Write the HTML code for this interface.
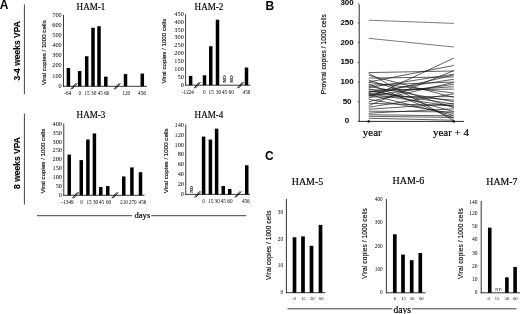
<!DOCTYPE html>
<html><head><meta charset="utf-8"><style>
html,body{margin:0;padding:0;background:#fff;}
svg{display:block;will-change:transform;}
.t{stroke:#000;stroke-width:0.18px;}
.s{stroke:#000;stroke-width:0.12px;}
</style></head><body>
<svg width="520" height="314" viewBox="0 0 520 314">
<rect width="520" height="314" fill="#fff"/>
<text x="-0.2" y="9.4" font-size="12" font-family='"Liberation Sans", sans-serif' text-anchor="start" font-weight="bold" fill="#000">A</text>
<line x1="24.4" y1="4.4" x2="24.4" y2="94.3" stroke="#444" stroke-width="1"/>
<line x1="24.4" y1="113.6" x2="24.4" y2="204.5" stroke="#444" stroke-width="1"/>
<text x="17" y="50.75" font-size="8.5" font-family='"Liberation Sans", sans-serif' text-anchor="middle" font-weight="bold" fill="#000" transform="rotate(-90 17 50.75)" dominant-baseline="central" class="s">3-4 weeks VPA</text>
<text x="17" y="163" font-size="8.5" font-family='"Liberation Sans", sans-serif' text-anchor="middle" font-weight="bold" fill="#000" transform="rotate(-90 17 163)" dominant-baseline="central" class="s">8 weeks VPA</text>
<line x1="37" y1="215.7" x2="132" y2="215.7" stroke="#444" stroke-width="1"/>
<line x1="151.3" y1="215.7" x2="246.3" y2="215.7" stroke="#444" stroke-width="1"/>
<text x="142.4" y="218.3" font-size="8.7" font-family='"Liberation Serif", serif' text-anchor="middle" fill="#000" class="t">days</text>
<text x="91" y="10.3" font-size="10.1" font-family='"Liberation Serif", serif' text-anchor="middle" fill="#000" transform="translate(91 10.3) scale(0.9 1) translate(-91 -10.3)" class="t">HAM-1</text>
<text x="43.9" y="52.7" font-size="6.2" font-family='"Liberation Sans", sans-serif' text-anchor="middle" fill="#000" transform="rotate(-90 43.9 52.7)" dominant-baseline="central" class="s">Viral copies / 1000 cells</text>
<line x1="63.5" y1="14.8" x2="63.5" y2="86.75" stroke="#222" stroke-width="0.9"/>
<line x1="63.05" y1="86.3" x2="147" y2="86.3" stroke="#222" stroke-width="0.9"/>
<text x="61.7" y="87.842" font-size="6.3" font-family='"Liberation Serif", serif' text-anchor="end" fill="#000">0</text>
<text x="61.7" y="77.65628571428572" font-size="6.3" font-family='"Liberation Serif", serif' text-anchor="end" fill="#000">100</text>
<text x="61.7" y="67.47057142857143" font-size="6.3" font-family='"Liberation Serif", serif' text-anchor="end" fill="#000">200</text>
<text x="61.7" y="57.28485714285714" font-size="6.3" font-family='"Liberation Serif", serif' text-anchor="end" fill="#000">300</text>
<text x="61.7" y="47.09914285714286" font-size="6.3" font-family='"Liberation Serif", serif' text-anchor="end" fill="#000">400</text>
<text x="61.7" y="36.91342857142857" font-size="6.3" font-family='"Liberation Serif", serif' text-anchor="end" fill="#000">500</text>
<text x="61.7" y="26.72771428571428" font-size="6.3" font-family='"Liberation Serif", serif' text-anchor="end" fill="#000">600</text>
<text x="61.7" y="16.542" font-size="6.3" font-family='"Liberation Serif", serif' text-anchor="end" fill="#000">700</text>
<rect x="66.65" y="67.96571428571428" width="3.5" height="18.334285714285713" fill="#000"/>
<rect x="77.9" y="71.02142857142857" width="3.5" height="15.278571428571428" fill="#000"/>
<rect x="84.95" y="56.25214285714286" width="3.5" height="30.047857142857143" fill="#000"/>
<rect x="91.25" y="27.732142857142854" width="3.5" height="58.56785714285714" fill="#000"/>
<rect x="97.25" y="26.20428571428571" width="3.5" height="60.09571428571429" fill="#000"/>
<rect x="104.05" y="76.62357142857142" width="3.5" height="9.676428571428572" fill="#000"/>
<rect x="123.75" y="74.07714285714286" width="3.5" height="12.222857142857142" fill="#000"/>
<rect x="140.55" y="73.56785714285714" width="3.5" height="12.732142857142858" fill="#000"/>
<text x="67.8" y="94.7" font-size="5.2" font-family='"Liberation Serif", serif' text-anchor="middle" fill="#000">-64</text>
<text x="79.9" y="94.7" font-size="5.2" font-family='"Liberation Serif", serif' text-anchor="middle" fill="#000">0</text>
<text x="87" y="94.7" font-size="5.2" font-family='"Liberation Serif", serif' text-anchor="middle" fill="#000">15</text>
<text x="93.7" y="94.7" font-size="5.2" font-family='"Liberation Serif", serif' text-anchor="middle" fill="#000">30</text>
<text x="100.2" y="94.7" font-size="5.2" font-family='"Liberation Serif", serif' text-anchor="middle" fill="#000">45</text>
<text x="106.8" y="94.7" font-size="5.2" font-family='"Liberation Serif", serif' text-anchor="middle" fill="#000">60</text>
<text x="126.2" y="94.7" font-size="5.2" font-family='"Liberation Serif", serif' text-anchor="middle" fill="#000">120</text>
<text x="142" y="94.7" font-size="5.2" font-family='"Liberation Serif", serif' text-anchor="middle" fill="#000">456</text>
<line x1="70.60000000000001" y1="89.3" x2="75.8" y2="83.3" stroke="#000" stroke-width="0.85"/>
<line x1="72.00000000000001" y1="89.3" x2="77.2" y2="83.3" stroke="#000" stroke-width="0.85"/>
<line x1="113.9" y1="89.3" x2="119.1" y2="83.3" stroke="#000" stroke-width="0.85"/>
<line x1="115.30000000000001" y1="89.3" x2="120.5" y2="83.3" stroke="#000" stroke-width="0.85"/>
<text x="209" y="10.3" font-size="10.1" font-family='"Liberation Serif", serif' text-anchor="middle" fill="#000" transform="translate(209 10.3) scale(0.9 1) translate(-209 -10.3)" class="t">HAM-2</text>
<text x="163.8" y="51.1" font-size="6.2" font-family='"Liberation Sans", sans-serif' text-anchor="middle" fill="#000" transform="rotate(-90 163.8 51.1)" dominant-baseline="central" class="s">Viral copies / 1000 cells</text>
<line x1="185.6" y1="14.2" x2="185.6" y2="85.65" stroke="#222" stroke-width="0.9"/>
<line x1="185.15" y1="85.2" x2="250.5" y2="85.2" stroke="#222" stroke-width="0.9"/>
<text x="183.79999999999998" y="86.742" font-size="6.3" font-family='"Liberation Serif", serif' text-anchor="end" fill="#000">0</text>
<text x="183.79999999999998" y="78.85311111111112" font-size="6.3" font-family='"Liberation Serif", serif' text-anchor="end" fill="#000">50</text>
<text x="183.79999999999998" y="70.96422222222223" font-size="6.3" font-family='"Liberation Serif", serif' text-anchor="end" fill="#000">100</text>
<text x="183.79999999999998" y="63.07533333333334" font-size="6.3" font-family='"Liberation Serif", serif' text-anchor="end" fill="#000">150</text>
<text x="183.79999999999998" y="55.18644444444445" font-size="6.3" font-family='"Liberation Serif", serif' text-anchor="end" fill="#000">200</text>
<text x="183.79999999999998" y="47.29755555555556" font-size="6.3" font-family='"Liberation Serif", serif' text-anchor="end" fill="#000">250</text>
<text x="183.79999999999998" y="39.408666666666676" font-size="6.3" font-family='"Liberation Serif", serif' text-anchor="end" fill="#000">300</text>
<text x="183.79999999999998" y="31.51977777777778" font-size="6.3" font-family='"Liberation Serif", serif' text-anchor="end" fill="#000">350</text>
<text x="183.79999999999998" y="23.630888888888894" font-size="6.3" font-family='"Liberation Serif", serif' text-anchor="end" fill="#000">400</text>
<text x="183.79999999999998" y="15.742000000000003" font-size="6.3" font-family='"Liberation Serif", serif' text-anchor="end" fill="#000">450</text>
<rect x="188.85" y="75.89111111111112" width="3.5" height="9.308888888888887" fill="#000"/>
<rect x="202.75" y="75.26" width="3.5" height="9.94" fill="#000"/>
<rect x="209.0" y="46.228888888888896" width="3.5" height="38.97111111111111" fill="#000"/>
<rect x="215.75" y="19.72222222222223" width="3.5" height="65.47777777777777" fill="#000"/>
<rect x="244.75" y="67.5288888888889" width="3.5" height="17.67111111111111" fill="#000"/>
<text x="187.9" y="94.0" font-size="5.2" font-family='"Liberation Serif", serif' text-anchor="middle" fill="#000">-1224</text>
<text x="204.3" y="94.0" font-size="5.2" font-family='"Liberation Serif", serif' text-anchor="middle" fill="#000">0</text>
<text x="211.2" y="94.0" font-size="5.2" font-family='"Liberation Serif", serif' text-anchor="middle" fill="#000">15</text>
<text x="218.5" y="94.0" font-size="5.2" font-family='"Liberation Serif", serif' text-anchor="middle" fill="#000">30</text>
<text x="224.5" y="94.0" font-size="5.2" font-family='"Liberation Serif", serif' text-anchor="middle" fill="#000">45</text>
<text x="231.2" y="94.0" font-size="5.2" font-family='"Liberation Serif", serif' text-anchor="middle" fill="#000">60</text>
<text x="246.5" y="94.0" font-size="5.2" font-family='"Liberation Serif", serif' text-anchor="middle" fill="#000">456</text>
<line x1="194.00000000000003" y1="88.2" x2="199.20000000000002" y2="82.2" stroke="#000" stroke-width="0.85"/>
<line x1="195.4" y1="88.2" x2="200.6" y2="82.2" stroke="#000" stroke-width="0.85"/>
<line x1="237.20000000000002" y1="88.2" x2="242.4" y2="82.2" stroke="#000" stroke-width="0.85"/>
<line x1="238.6" y1="88.2" x2="243.79999999999998" y2="82.2" stroke="#000" stroke-width="0.85"/>
<text x="224.5" y="79" font-size="5" font-family='"Liberation Serif", serif' text-anchor="middle" fill="#000" transform="rotate(-90 224.5 79)" dominant-baseline="central" class="s">ND</text>
<text x="231" y="79" font-size="5" font-family='"Liberation Serif", serif' text-anchor="middle" fill="#000" transform="rotate(-90 231 79)" dominant-baseline="central" class="s">ND</text>
<text x="91" y="118.3" font-size="10.1" font-family='"Liberation Serif", serif' text-anchor="middle" fill="#000" transform="translate(91 118.3) scale(0.9 1) translate(-91 -118.3)" class="t">HAM-3</text>
<text x="42.7" y="161.0" font-size="6.2" font-family='"Liberation Sans", sans-serif' text-anchor="middle" fill="#000" transform="rotate(-90 42.7 161.0)" dominant-baseline="central" class="s">Viral copies / 1000 cells</text>
<line x1="63.75" y1="123.5" x2="63.75" y2="195.75" stroke="#222" stroke-width="0.9"/>
<line x1="63.3" y1="195.3" x2="144.5" y2="195.3" stroke="#222" stroke-width="0.9"/>
<text x="61.95" y="196.842" font-size="6.3" font-family='"Liberation Serif", serif' text-anchor="end" fill="#000">0</text>
<text x="61.95" y="187.95450000000002" font-size="6.3" font-family='"Liberation Serif", serif' text-anchor="end" fill="#000">50</text>
<text x="61.95" y="179.067" font-size="6.3" font-family='"Liberation Serif", serif' text-anchor="end" fill="#000">100</text>
<text x="61.95" y="170.17950000000002" font-size="6.3" font-family='"Liberation Serif", serif' text-anchor="end" fill="#000">150</text>
<text x="61.95" y="161.292" font-size="6.3" font-family='"Liberation Serif", serif' text-anchor="end" fill="#000">200</text>
<text x="61.95" y="152.4045" font-size="6.3" font-family='"Liberation Serif", serif' text-anchor="end" fill="#000">250</text>
<text x="61.95" y="143.51700000000002" font-size="6.3" font-family='"Liberation Serif", serif' text-anchor="end" fill="#000">300</text>
<text x="61.95" y="134.6295" font-size="6.3" font-family='"Liberation Serif", serif' text-anchor="end" fill="#000">350</text>
<text x="61.95" y="125.742" font-size="6.3" font-family='"Liberation Serif", serif' text-anchor="end" fill="#000">400</text>
<rect x="67.5" y="154.59525000000002" width="3.5" height="40.704750000000004" fill="#000"/>
<rect x="79.5" y="160.1055" width="3.5" height="35.194500000000005" fill="#000"/>
<rect x="86.15" y="139.4865" width="3.5" height="55.813500000000005" fill="#000"/>
<rect x="92.65" y="133.443" width="3.5" height="61.857000000000006" fill="#000"/>
<rect x="99.0" y="186.94575" width="3.5" height="8.35425" fill="#000"/>
<rect x="106.0" y="186.05700000000002" width="3.5" height="9.243" fill="#000"/>
<rect x="122.0" y="176.45850000000002" width="3.5" height="18.841500000000003" fill="#000"/>
<rect x="130.15" y="167.39325000000002" width="3.5" height="27.906750000000002" fill="#000"/>
<rect x="138.75" y="172.1925" width="3.5" height="23.1075" fill="#000"/>
<text x="67.6" y="203.6" font-size="5.2" font-family='"Liberation Serif", serif' text-anchor="middle" fill="#000">-1349</text>
<text x="81.6" y="203.6" font-size="5.2" font-family='"Liberation Serif", serif' text-anchor="middle" fill="#000">0</text>
<text x="89" y="203.6" font-size="5.2" font-family='"Liberation Serif", serif' text-anchor="middle" fill="#000">15</text>
<text x="95.5" y="203.6" font-size="5.2" font-family='"Liberation Serif", serif' text-anchor="middle" fill="#000">30</text>
<text x="101.5" y="203.6" font-size="5.2" font-family='"Liberation Serif", serif' text-anchor="middle" fill="#000">45</text>
<text x="108.5" y="203.6" font-size="5.2" font-family='"Liberation Serif", serif' text-anchor="middle" fill="#000">60</text>
<text x="124" y="203.6" font-size="5.2" font-family='"Liberation Serif", serif' text-anchor="middle" fill="#000">210</text>
<text x="132.8" y="203.6" font-size="5.2" font-family='"Liberation Serif", serif' text-anchor="middle" fill="#000">270</text>
<text x="142.5" y="203.6" font-size="5.2" font-family='"Liberation Serif", serif' text-anchor="middle" fill="#000">456</text>
<line x1="72.2" y1="198.3" x2="77.39999999999999" y2="192.3" stroke="#000" stroke-width="0.85"/>
<line x1="73.60000000000001" y1="198.3" x2="78.8" y2="192.3" stroke="#000" stroke-width="0.85"/>
<line x1="111.7" y1="198.3" x2="116.89999999999999" y2="192.3" stroke="#000" stroke-width="0.85"/>
<line x1="113.10000000000001" y1="198.3" x2="118.3" y2="192.3" stroke="#000" stroke-width="0.85"/>
<text x="209" y="118.3" font-size="10.1" font-family='"Liberation Serif", serif' text-anchor="middle" fill="#000" transform="translate(209 118.3) scale(0.9 1) translate(-209 -118.3)" class="t">HAM-4</text>
<text x="165.3" y="160.75" font-size="6.2" font-family='"Liberation Sans", sans-serif' text-anchor="middle" fill="#000" transform="rotate(-90 165.3 160.75)" dominant-baseline="central" class="s">Viral copies / 1000 cells</text>
<line x1="185.75" y1="124.5" x2="185.75" y2="194.85" stroke="#222" stroke-width="0.9"/>
<line x1="185.3" y1="194.4" x2="250" y2="194.4" stroke="#222" stroke-width="0.9"/>
<text x="183.95" y="195.942" font-size="6.3" font-family='"Liberation Serif", serif' text-anchor="end" fill="#000">0</text>
<text x="183.95" y="186.05628571428574" font-size="6.3" font-family='"Liberation Serif", serif' text-anchor="end" fill="#000">20</text>
<text x="183.95" y="176.17057142857144" font-size="6.3" font-family='"Liberation Serif", serif' text-anchor="end" fill="#000">40</text>
<text x="183.95" y="166.28485714285713" font-size="6.3" font-family='"Liberation Serif", serif' text-anchor="end" fill="#000">60</text>
<text x="183.95" y="156.39914285714286" font-size="6.3" font-family='"Liberation Serif", serif' text-anchor="end" fill="#000">80</text>
<text x="183.95" y="146.5134285714286" font-size="6.3" font-family='"Liberation Serif", serif' text-anchor="end" fill="#000">100</text>
<text x="183.95" y="136.6277142857143" font-size="6.3" font-family='"Liberation Serif", serif' text-anchor="end" fill="#000">120</text>
<text x="183.95" y="126.742" font-size="6.3" font-family='"Liberation Serif", serif' text-anchor="end" fill="#000">140</text>
<rect x="201.85" y="136.56857142857143" width="3.5" height="57.831428571428575" fill="#000"/>
<rect x="208.65" y="139.53428571428572" width="3.5" height="54.86571428571429" fill="#000"/>
<rect x="214.85" y="128.66" width="3.5" height="65.74000000000001" fill="#000"/>
<rect x="221.5" y="185.99714285714288" width="3.5" height="8.402857142857144" fill="#000"/>
<rect x="228.0" y="188.96285714285716" width="3.5" height="5.437142857142858" fill="#000"/>
<rect x="245.0" y="165.23714285714286" width="3.5" height="29.162857142857145" fill="#000"/>
<text x="203.5" y="203" font-size="5.2" font-family='"Liberation Serif", serif' text-anchor="middle" fill="#000">0</text>
<text x="210.7" y="203" font-size="5.2" font-family='"Liberation Serif", serif' text-anchor="middle" fill="#000">15</text>
<text x="217.2" y="203" font-size="5.2" font-family='"Liberation Serif", serif' text-anchor="middle" fill="#000">30</text>
<text x="223.3" y="203" font-size="5.2" font-family='"Liberation Serif", serif' text-anchor="middle" fill="#000">45</text>
<text x="229.9" y="203" font-size="5.2" font-family='"Liberation Serif", serif' text-anchor="middle" fill="#000">60</text>
<text x="245.8" y="203" font-size="5.2" font-family='"Liberation Serif", serif' text-anchor="middle" fill="#000">456</text>
<line x1="194.4" y1="197.4" x2="199.6" y2="191.4" stroke="#000" stroke-width="0.85"/>
<line x1="195.79999999999998" y1="197.4" x2="200.99999999999997" y2="191.4" stroke="#000" stroke-width="0.85"/>
<line x1="234.70000000000002" y1="197.4" x2="239.9" y2="191.4" stroke="#000" stroke-width="0.85"/>
<line x1="236.1" y1="197.4" x2="241.29999999999998" y2="191.4" stroke="#000" stroke-width="0.85"/>
<text x="191" y="189.5" font-size="4.6" font-family='"Liberation Serif", serif' text-anchor="middle" fill="#000" transform="rotate(-90 191 189.5)" dominant-baseline="central" class="s">ND</text>
<text x="265.6" y="9.7" font-size="12" font-family='"Liberation Sans", sans-serif' text-anchor="start" font-weight="bold" fill="#000">B</text>
<line x1="359.2" y1="4.3" x2="359.2" y2="121.6" stroke="#111" stroke-width="0.9"/>
<line x1="358.8" y1="121.4" x2="464" y2="121.4" stroke="#111" stroke-width="0.9"/>
<text x="347.1" y="123.4" font-size="8" font-family='"Liberation Sans", sans-serif' text-anchor="middle" font-weight="bold" fill="#000">0</text>
<line x1="357.7" y1="121.4" x2="359.2" y2="121.4" stroke="#111" stroke-width="0.6"/>
<text x="347.1" y="103.71666666666667" font-size="8" font-family='"Liberation Sans", sans-serif' text-anchor="middle" font-weight="bold" fill="#000">50</text>
<line x1="357.7" y1="101.71666666666667" x2="359.2" y2="101.71666666666667" stroke="#111" stroke-width="0.6"/>
<text x="347.1" y="84.03333333333333" font-size="8" font-family='"Liberation Sans", sans-serif' text-anchor="middle" font-weight="bold" fill="#000">100</text>
<line x1="357.7" y1="82.03333333333333" x2="359.2" y2="82.03333333333333" stroke="#111" stroke-width="0.6"/>
<text x="347.1" y="64.35" font-size="8" font-family='"Liberation Sans", sans-serif' text-anchor="middle" font-weight="bold" fill="#000">150</text>
<line x1="357.7" y1="62.349999999999994" x2="359.2" y2="62.349999999999994" stroke="#111" stroke-width="0.6"/>
<text x="347.1" y="44.66666666666666" font-size="8" font-family='"Liberation Sans", sans-serif' text-anchor="middle" font-weight="bold" fill="#000">200</text>
<line x1="357.7" y1="42.66666666666666" x2="359.2" y2="42.66666666666666" stroke="#111" stroke-width="0.6"/>
<text x="347.1" y="24.98333333333332" font-size="8" font-family='"Liberation Sans", sans-serif' text-anchor="middle" font-weight="bold" fill="#000">250</text>
<line x1="357.7" y1="22.98333333333332" x2="359.2" y2="22.98333333333332" stroke="#111" stroke-width="0.6"/>
<text x="347.1" y="5.299999999999983" font-size="8" font-family='"Liberation Sans", sans-serif' text-anchor="middle" font-weight="bold" fill="#000">300</text>
<line x1="357.7" y1="3.299999999999983" x2="359.2" y2="3.299999999999983" stroke="#111" stroke-width="0.6"/>
<text x="323.8" y="54.2" font-size="6.75" font-family='"Liberation Sans", sans-serif' text-anchor="middle" fill="#000" transform="rotate(-90 323.8 54.2)" dominant-baseline="central" class="s">Proviral copies / 1000 cells</text>
<text x="372.3" y="136.2" font-size="11" font-family='"Liberation Serif", serif' text-anchor="middle" fill="#000" class="t">year</text>
<text x="451" y="136.2" font-size="11" font-family='"Liberation Serif", serif' text-anchor="middle" fill="#000" class="t">year + 4</text>
<line x1="368.7" y1="20.227666666666664" x2="453.8" y2="23.376999999999995" stroke="#444" stroke-width="0.7"/>
<line x1="368.7" y1="38.33633333333333" x2="453.8" y2="46.997" stroke="#444" stroke-width="0.7"/>
<line x1="368.7" y1="72.58533333333332" x2="453.8" y2="71.01066666666667" stroke="#1a1a1a" stroke-width="0.7"/>
<line x1="368.7" y1="73.37266666666667" x2="453.8" y2="120.61266666666667" stroke="#1a1a1a" stroke-width="0.7"/>
<line x1="368.7" y1="75.34100000000001" x2="453.8" y2="97.38633333333334" stroke="#1a1a1a" stroke-width="0.7"/>
<line x1="368.7" y1="78.09666666666666" x2="453.8" y2="76.91566666666667" stroke="#1a1a1a" stroke-width="0.7"/>
<line x1="368.7" y1="80.065" x2="453.8" y2="107.62166666666667" stroke="#1a1a1a" stroke-width="0.7"/>
<line x1="368.7" y1="82.03333333333333" x2="453.8" y2="65.49933333333334" stroke="#1a1a1a" stroke-width="0.7"/>
<line x1="368.7" y1="82.42699999999999" x2="453.8" y2="93.056" stroke="#1a1a1a" stroke-width="0.7"/>
<line x1="368.7" y1="84.00166666666667" x2="453.8" y2="118.25066666666667" stroke="#1a1a1a" stroke-width="0.7"/>
<line x1="368.7" y1="85.18266666666668" x2="453.8" y2="82.03333333333333" stroke="#1a1a1a" stroke-width="0.7"/>
<line x1="368.7" y1="86.36366666666666" x2="453.8" y2="101.71666666666667" stroke="#1a1a1a" stroke-width="0.7"/>
<line x1="368.7" y1="87.54466666666667" x2="453.8" y2="74.16" stroke="#1a1a1a" stroke-width="0.7"/>
<line x1="368.7" y1="88.72566666666667" x2="453.8" y2="111.55833333333334" stroke="#1a1a1a" stroke-width="0.7"/>
<line x1="368.7" y1="89.90666666666667" x2="453.8" y2="89.11933333333334" stroke="#1a1a1a" stroke-width="0.7"/>
<line x1="368.7" y1="91.08766666666666" x2="453.8" y2="104.07866666666666" stroke="#1a1a1a" stroke-width="0.7"/>
<line x1="368.7" y1="92.26866666666666" x2="453.8" y2="79.27766666666668" stroke="#1a1a1a" stroke-width="0.7"/>
<line x1="368.7" y1="93.44966666666667" x2="453.8" y2="100.142" stroke="#1a1a1a" stroke-width="0.7"/>
<line x1="368.7" y1="94.63066666666667" x2="453.8" y2="115.495" stroke="#1a1a1a" stroke-width="0.7"/>
<line x1="368.7" y1="95.81166666666667" x2="453.8" y2="84.39533333333333" stroke="#1a1a1a" stroke-width="0.7"/>
<line x1="368.7" y1="96.99266666666666" x2="453.8" y2="96.599" stroke="#1a1a1a" stroke-width="0.7"/>
<line x1="368.7" y1="98.17366666666666" x2="453.8" y2="58.019666666666666" stroke="#1a1a1a" stroke-width="0.7"/>
<line x1="368.7" y1="99.35466666666667" x2="453.8" y2="113.52666666666667" stroke="#1a1a1a" stroke-width="0.7"/>
<line x1="368.7" y1="101.71666666666667" x2="453.8" y2="82.42699999999999" stroke="#1a1a1a" stroke-width="0.7"/>
<line x1="368.7" y1="103.29133333333334" x2="453.8" y2="105.65333333333334" stroke="#1a1a1a" stroke-width="0.7"/>
<line x1="368.7" y1="105.65333333333334" x2="453.8" y2="70.61699999999999" stroke="#1a1a1a" stroke-width="0.7"/>
<line x1="368.7" y1="107.22800000000001" x2="453.8" y2="93.84333333333333" stroke="#1a1a1a" stroke-width="0.7"/>
<line x1="368.7" y1="109.19633333333334" x2="453.8" y2="103.685" stroke="#1a1a1a" stroke-width="0.7"/>
<line x1="368.7" y1="111.16466666666668" x2="453.8" y2="111.952" stroke="#1a1a1a" stroke-width="0.7"/>
<line x1="368.7" y1="113.13300000000001" x2="453.8" y2="108.80266666666667" stroke="#1a1a1a" stroke-width="0.7"/>
<line x1="368.7" y1="114.70766666666667" x2="453.8" y2="115.88866666666667" stroke="#1a1a1a" stroke-width="0.7"/>
<line x1="368.7" y1="116.28233333333334" x2="453.8" y2="117.46333333333334" stroke="#1a1a1a" stroke-width="0.7"/>
<line x1="368.7" y1="118.25066666666667" x2="453.8" y2="120.21900000000001" stroke="#1a1a1a" stroke-width="0.7"/>
<line x1="368.7" y1="91.875" x2="453.8" y2="86.75733333333334" stroke="#1a1a1a" stroke-width="0.7"/>
<line x1="368.7" y1="93.84333333333333" x2="453.8" y2="106.44066666666667" stroke="#1a1a1a" stroke-width="0.7"/>
<line x1="368.7" y1="95.418" x2="453.8" y2="74.94733333333333" stroke="#1a1a1a" stroke-width="0.7"/>
<circle cx="368.7" cy="121.4" r="1.2" fill="#000"/>
<circle cx="453.8" cy="121.4" r="1.2" fill="#000"/>
<text x="264.9" y="160.2" font-size="12" font-family='"Liberation Sans", sans-serif' text-anchor="start" font-weight="bold" fill="#000">C</text>
<line x1="287.5" y1="308.8" x2="392.3" y2="308.8" stroke="#444" stroke-width="1"/>
<line x1="412" y1="308.8" x2="516.5" y2="308.8" stroke="#444" stroke-width="1"/>
<text x="402.3" y="312.6" font-size="9.6" font-family='"Liberation Serif", serif' text-anchor="middle" fill="#000" class="t">days</text>
<text x="307.5" y="185.3" font-size="10.5" font-family='"Liberation Serif", serif' text-anchor="middle" fill="#000" transform="translate(307.5 185.3) scale(0.95 1) translate(-307.5 -185.3)" class="t">HAM-5</text>
<text x="268.6" y="245.2" font-size="6.65" font-family='"Liberation Sans", sans-serif' text-anchor="middle" fill="#000" transform="rotate(-90 268.6 245.2)" dominant-baseline="central" class="s">Viral copies / 1000 cells</text>
<line x1="286.4" y1="198.9" x2="286.4" y2="293.15" stroke="#333" stroke-width="1.0"/>
<line x1="285.95" y1="292.7" x2="325.3" y2="292.7" stroke="#333" stroke-width="1.0"/>
<text x="283.1" y="294.10200000000003" font-size="5.3" font-family='"Liberation Serif", serif' text-anchor="end" fill="#000">0</text>
<text x="283.1" y="267.302" font-size="5.3" font-family='"Liberation Serif", serif' text-anchor="end" fill="#000">10</text>
<text x="283.1" y="240.50199999999998" font-size="5.3" font-family='"Liberation Serif", serif' text-anchor="end" fill="#000">20</text>
<text x="283.1" y="213.70199999999997" font-size="5.3" font-family='"Liberation Serif", serif' text-anchor="end" fill="#000">30</text>
<rect x="292.65" y="237.224" width="3.7" height="55.476" fill="#000"/>
<rect x="301.15" y="236.42" width="3.7" height="56.28" fill="#000"/>
<rect x="309.65" y="245.79999999999998" width="3.7" height="46.900000000000006" fill="#000"/>
<rect x="318.65" y="224.896" width="3.7" height="67.804" fill="#000"/>
<text x="294.6" y="300.1" font-size="4.6" font-family='"Liberation Serif", serif' text-anchor="middle" fill="#000">0</text>
<text x="303.3" y="300.1" font-size="4.6" font-family='"Liberation Serif", serif' text-anchor="middle" fill="#000">15</text>
<text x="312.3" y="300.1" font-size="4.6" font-family='"Liberation Serif", serif' text-anchor="middle" fill="#000">30</text>
<text x="321.3" y="300.1" font-size="4.6" font-family='"Liberation Serif", serif' text-anchor="middle" fill="#000">60</text>
<text x="408.4" y="183.8" font-size="10.5" font-family='"Liberation Serif", serif' text-anchor="middle" fill="#000" transform="translate(408.4 183.8) scale(0.95 1) translate(-408.4 -183.8)" class="t">HAM-6</text>
<text x="364.7" y="243.6" font-size="6.75" font-family='"Liberation Sans", sans-serif' text-anchor="middle" fill="#000" transform="rotate(-90 364.7 243.6)" dominant-baseline="central" class="s">Viral copies / 1000 cells</text>
<line x1="386.4" y1="198.9" x2="386.4" y2="293.25" stroke="#333" stroke-width="1.0"/>
<line x1="385.95" y1="292.8" x2="425.5" y2="292.8" stroke="#333" stroke-width="1.0"/>
<text x="382.7" y="294.20200000000006" font-size="5.3" font-family='"Liberation Serif", serif' text-anchor="end" fill="#000">0</text>
<text x="382.7" y="270.90200000000004" font-size="5.3" font-family='"Liberation Serif", serif' text-anchor="end" fill="#000">100</text>
<text x="382.7" y="247.602" font-size="5.3" font-family='"Liberation Serif", serif' text-anchor="end" fill="#000">200</text>
<text x="382.7" y="224.302" font-size="5.3" font-family='"Liberation Serif", serif' text-anchor="end" fill="#000">300</text>
<text x="382.7" y="201.002" font-size="5.3" font-family='"Liberation Serif", serif' text-anchor="end" fill="#000">400</text>
<rect x="392.95" y="234.317" width="3.7" height="58.483000000000004" fill="#000"/>
<rect x="401.15" y="254.58800000000002" width="3.7" height="38.212" fill="#000"/>
<rect x="409.84999999999997" y="260.18" width="3.7" height="32.620000000000005" fill="#000"/>
<rect x="418.45" y="252.957" width="3.7" height="39.843" fill="#000"/>
<text x="394.8" y="300.1" font-size="4.6" font-family='"Liberation Serif", serif' text-anchor="middle" fill="#000">0</text>
<text x="403.5" y="300.1" font-size="4.6" font-family='"Liberation Serif", serif' text-anchor="middle" fill="#000">15</text>
<text x="412.3" y="300.1" font-size="4.6" font-family='"Liberation Serif", serif' text-anchor="middle" fill="#000">30</text>
<text x="421.2" y="300.1" font-size="4.6" font-family='"Liberation Serif", serif' text-anchor="middle" fill="#000">60</text>
<text x="501.8" y="185.1" font-size="10.3" font-family='"Liberation Serif", serif' text-anchor="middle" fill="#000" transform="translate(501.8 185.1) scale(0.95 1) translate(-501.8 -185.1)" class="t">HAM-7</text>
<text x="460.8" y="243.6" font-size="6.75" font-family='"Liberation Sans", sans-serif' text-anchor="middle" fill="#000" transform="rotate(-90 460.8 243.6)" dominant-baseline="central" class="s">Viral copies / 1000 cells</text>
<line x1="481.2" y1="200.8" x2="481.2" y2="293.3" stroke="#333" stroke-width="1.0"/>
<line x1="480.7" y1="292.8" x2="520" y2="292.8" stroke="#333" stroke-width="1.0"/>
<text x="477.5" y="203.8" font-size="5.5" font-family='"Liberation Serif", serif' text-anchor="end" fill="#000">140</text>
<text x="477.5" y="215.3" font-size="5.5" font-family='"Liberation Serif", serif' text-anchor="end" fill="#000">120</text>
<text x="477.5" y="228.0" font-size="5.5" font-family='"Liberation Serif", serif' text-anchor="end" fill="#000">50</text>
<text x="477.5" y="241.0" font-size="5.5" font-family='"Liberation Serif", serif' text-anchor="end" fill="#000">40</text>
<text x="477.5" y="254.60000000000002" font-size="5.5" font-family='"Liberation Serif", serif' text-anchor="end" fill="#000">30</text>
<text x="477.5" y="268.0" font-size="5.5" font-family='"Liberation Serif", serif' text-anchor="end" fill="#000">20</text>
<text x="477.5" y="280.7" font-size="5.5" font-family='"Liberation Serif", serif' text-anchor="end" fill="#000">10</text>
<text x="477.5" y="293.6" font-size="5.5" font-family='"Liberation Serif", serif' text-anchor="end" fill="#000">0</text>
<rect x="487.95" y="227.65500000000003" width="3.6" height="65.145" fill="#000"/>
<rect x="505.09999999999997" y="277.32" width="3.6" height="15.48" fill="#000"/>
<rect x="513.3000000000001" y="267.0" width="3.6" height="25.8" fill="#000"/>
<text x="488.7" y="300.1" font-size="4.6" font-family='"Liberation Serif", serif' text-anchor="middle" fill="#000">0</text>
<text x="497.1" y="300.1" font-size="4.6" font-family='"Liberation Serif", serif' text-anchor="middle" fill="#000">15</text>
<text x="506.7" y="300.1" font-size="4.6" font-family='"Liberation Serif", serif' text-anchor="middle" fill="#000">30</text>
<text x="515.3" y="300.1" font-size="4.6" font-family='"Liberation Serif", serif' text-anchor="middle" fill="#000">60</text>
<text x="498.5" y="291" font-size="4.4" font-family='"Liberation Serif", serif' text-anchor="middle" fill="#000">ND</text>
</svg>
</body></html>
